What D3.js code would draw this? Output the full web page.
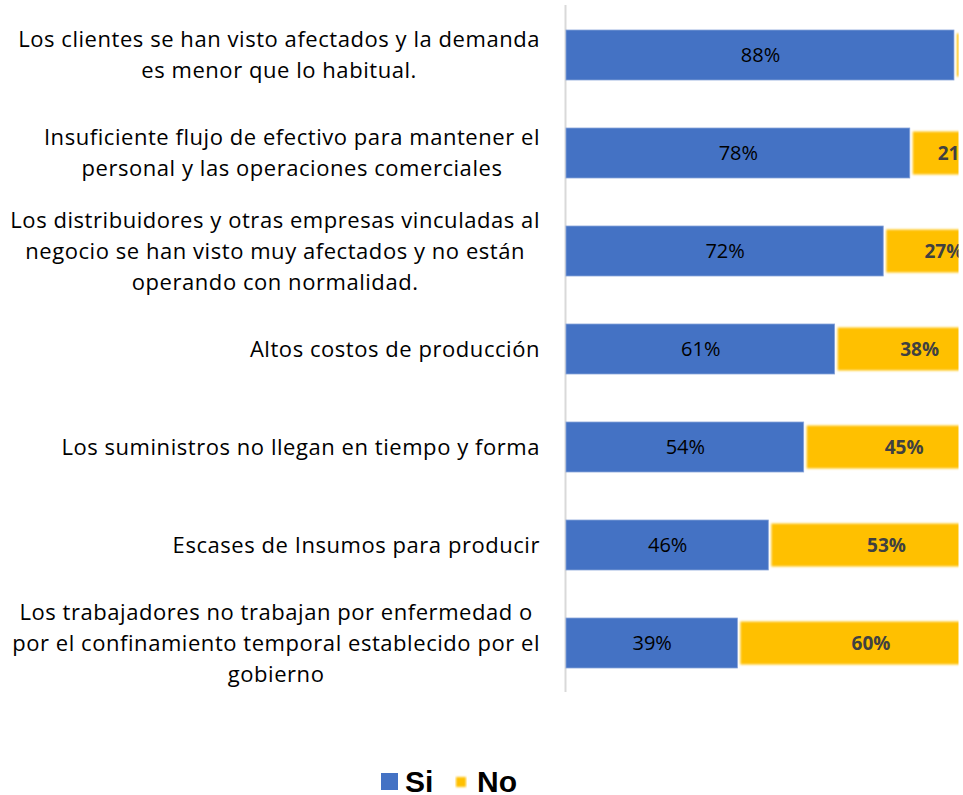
<!DOCTYPE html>
<html>
<head>
<meta charset="utf-8">
<script src="https://cdn.jsdelivr.net/npm/d3@7"></script>
<style>
  body { margin: 0; background: #fff; }
  .cat { font-family: 'Open Sans', sans-serif; font-size: 22px; letter-spacing: 0.55px; fill: #000; }
  .lab-si { font-family: 'Open Sans', sans-serif; font-size: 20px; fill: #000; }
  .lab-no { font-family: 'Open Sans', sans-serif; font-size: 19px; font-weight: bold; fill: #404040; }
  .legend { font-family: 'Liberation Sans', Arial, sans-serif; font-size: 30px; font-weight: bold; }
</style>
</head>
<body>
<script>
// categories, each split in the lines shown on the chart
const categories = [
  ["Los clientes se han visto afectados y la demanda", "es menor que lo habitual."],
  ["Insuficiente flujo de efectivo para mantener el", "personal y las operaciones comerciales"],
  ["Los distribuidores y otras empresas vinculadas al", "negocio se han visto muy afectados y no están", "operando con normalidad."],
  ["Altos costos de producción"],
  ["Los suministros no llegan en tiempo y forma"],
  ["Escases de Insumos para producir"],
  ["Los trabajadores no trabajan por enfermedad o", "por el confinamiento temporal establecido por el", "gobierno"]
];
const si = [88, 78, 72, 61, 54, 46, 39];
const no = [12, 21, 27, 38, 45, 53, 60];
const seriesNames = ["Si", "No"];

const W = 963, H = 795;
const svg = d3.select("body").append("svg").attr("width", W).attr("height", H);

const defs = svg.append("defs");
defs.append("filter").attr("id", "soft")
  .attr("x", "-10%").attr("y", "-20%").attr("width", "120%").attr("height", "140%")
  .append("feGaussianBlur").attr("stdDeviation", 1.1);
// the source picture is cropped just past x = 958
defs.append("clipPath").attr("id", "crop")
  .append("rect").attr("x", 0).attr("y", 0).attr("width", 958.5).attr("height", H);

const keys = categories.map((d, i) => i);
const x = d3.scaleLinear().domain([0, 100]).range([566, 1008]);
const y = d3.scaleBand().domain(keys).range([6, 692]).paddingInner(0.49).paddingOuter(0.245);

const plot = svg.append("g").attr("clip-path", "url(#crop)");

// axis line
plot.append("line")
  .attr("x1", 565.5).attr("x2", 565.5).attr("y1", 5).attr("y2", 692)
  .attr("stroke", "#d9d9d9").attr("stroke-width", 2);

// Si bars
plot.append("g").selectAll("rect").data(keys).join("rect")
  .attr("x", x(0))
  .attr("y", i => y(i))
  .attr("width", i => x(si[i]) - x(0) - 1)
  .attr("height", y.bandwidth())
  .attr("fill", "#4472c4")
  .attr("stroke", "#86a2d8").attr("stroke-width", 0.8);

// No bars
plot.append("g").attr("filter", "url(#soft)").selectAll("rect").data(keys).join("rect")
  .attr("x", i => x(si[i]) + 2)
  .attr("y", i => y(i) + 3.5)
  .attr("width", i => x(si[i] + no[i]) - x(si[i]) - 4)
  .attr("height", y.bandwidth() - 7)
  .attr("fill", "#ffc000");

// data labels
plot.append("g").selectAll("text").data(keys).join("text")
  .attr("class", "lab-si")
  .attr("x", i => (x(0) + x(si[i])) / 2)
  .attr("y", i => y(i) + y.bandwidth() / 2)
  .attr("text-anchor", "middle").attr("dy", "0.35em")
  .text(i => si[i] + "%");

plot.append("g").selectAll("text").data(keys).join("text")
  .attr("class", "lab-no")
  .attr("x", i => (x(si[i]) + x(si[i] + no[i])) / 2)
  .attr("y", i => y(i) + y.bandwidth() / 2)
  .attr("text-anchor", "middle").attr("dy", "0.35em")
  .text(i => no[i] + "%");

// category labels: lines centred in a block right-aligned at 540
const lineH = 31;
const catG = svg.append("g");
keys.forEach(i => {
  const lines = categories[i];
  const g = catG.append("g");
  const cy = y(i) + y.bandwidth() / 2;
  const ts = g.selectAll("text").data(lines).join("text")
    .attr("class", "cat")
    .attr("y", (d, j) => cy + (j - (lines.length - 1) / 2) * lineH)
    .attr("dy", "0.35em")
    .attr("text-anchor", "middle")
    .text(d => d);
  const maxW = d3.max(ts.nodes(), n => n.getComputedTextLength());
  ts.attr("x", 540 - maxW / 2);
});

// legend
const legend = svg.append("g");
legend.append("rect").attr("x", 381).attr("y", 773).attr("width", 17).attr("height", 17).attr("fill", "#4472c4");
legend.append("text").attr("class", "legend").attr("x", 405).attr("y", 792).text(seriesNames[0]);
legend.append("rect").attr("x", 456).attr("y", 777).attr("width", 10).attr("height", 10)
  .attr("fill", "#ffc000").attr("filter", "url(#soft)");
legend.append("text").attr("class", "legend").attr("x", 477).attr("y", 792).text(seriesNames[1]);
</script>
</body>
</html>
